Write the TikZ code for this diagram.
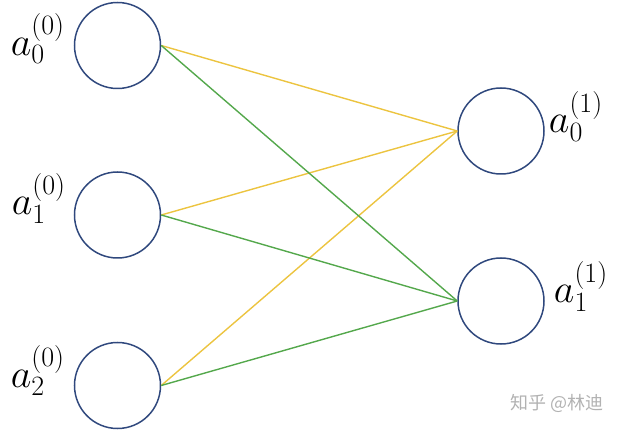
\RequirePackage{fix-cm}
\documentclass[tikz,border=0pt]{standalone}
\usepackage{fontspec}
\usepackage{amsmath}
\newfontfamily\cjkfont{Noto Sans CJK SC}
\usetikzlibrary{positioning}
\usetikzlibrary{math}

\definecolor{nodeblue}{RGB}{47,72,125}
\definecolor{lineyellow}{RGB}{236,196,64}
\definecolor{linegreen}{RGB}{84,168,76}

\tikzset{
  neuron/.style={circle, draw=nodeblue, line width=1.5pt, minimum size=86pt, inner sep=0pt},
  toyellow/.style={lineyellow, line width=1.4pt},
  togreen/.style={linegreen, line width=1.4pt},
  lbl/.style={inner sep=0pt, font=\fontsize{40}{40}\selectfont},
}

\begin{document}
\begin{tikzpicture}[x=1pt,y=-1pt]

  \tikzmath{
    \xin  = 117.5; % x of input layer
    \xout = 501;   % x of output layer
  }

  \useasboundingbox (0,0) rectangle (624,430);

  % input layer
  \node[neuron] (in0) at (\xin, 45.5) {};
  \node[neuron] (in1) at (\xin, 215) {};
  \node[neuron] (in2) at (\xin, 385.5) {};

  % output layer
  \node[neuron] (out0) at (\xout, 131) {};
  \node[neuron] (out1) at (\xout, 301) {};

  % labels
  \node[lbl, anchor=base east] (l00) at ([shift={(-9,10)}]in0.west) {$a_0^{(0)}$};
  \node[lbl, anchor=base east] (l10) at ([shift={(-8,0)}]in1.west) {$a_1^{(0)}$};
  \node[lbl, anchor=base east] (l20) at ([shift={(-9,1.5)}]in2.west) {$a_2^{(0)}$};
  \node[lbl, anchor=base west] (l01) at ([shift={(4,2)}]out0.east) {$a_0^{(1)}$};
  \node[lbl, anchor=base west] (l11) at ([shift={(9,2)}]out1.east) {$a_1^{(1)}$};

  % weights
  \draw[toyellow] (in0.east) -- (out0.west);
  \draw[toyellow] (in1.east) -- (out0.west);
  \draw[toyellow] (in2.east) -- (out0.west);
  \draw[togreen] (in0.east) -- (out1.west);
  \draw[togreen] (in1.east) -- (out1.west);
  \draw[togreen] (in2.east) -- (out1.west);

  % watermark
  \node[anchor=east, text=black!30, font=\cjkfont\fontsize{18}{18}\selectfont]
    (mark) at (607, 403) {知乎 @林迪};

\end{tikzpicture}
\end{document}
